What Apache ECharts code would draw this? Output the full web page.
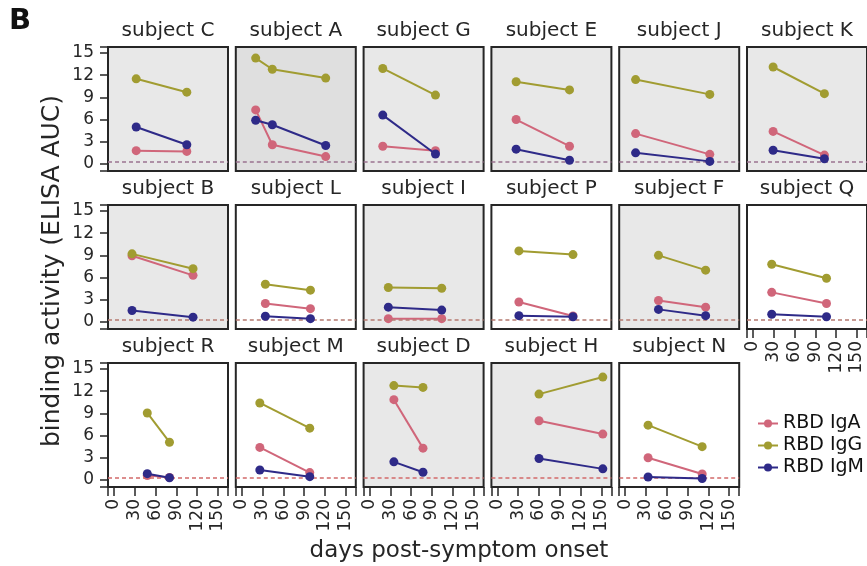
<!DOCTYPE html>
<html>
<head>
<meta charset="utf-8">
<script src="https://cdn.jsdelivr.net/npm/echarts@6/dist/echarts.min.js"></script>
<style>
  html, body { margin: 0; padding: 0; background: #fff; }
  #chart { width: 867px; height: 566px; }
</style>
</head>
<body>
<div id="chart"></div>
<script>
// one entry per panel, in reading order
const subjects = ['C', 'A', 'G', 'E', 'J', 'K', 'B', 'L', 'I', 'P', 'F', 'Q', 'R', 'M', 'D', 'H', 'N']
const sampleDays = [
  [32, 105], [20, 44, 121], [19, 95], [27, 104], [15, 122], [29, 103],
  [26, 114], [34, 99], [27, 104], [31, 109], [48, 116], [27, 106],
  [48, 80], [26, 98], [35, 77], [60, 152], [33, 111],
]
const rbdIgA = [
  [1.8, 1.7], [7.3, 2.6, 1.0], [2.4, 1.8], [6.0, 2.4], [4.1, 1.3], [4.4, 1.2],
  [8.95, 6.3], [2.5, 1.8], [0.45, 0.45], [2.7, 0.8], [2.9, 2.0], [4.0, 2.5],
  [0.6, 0.35], [4.4, 1.0], [10.85, 4.3], [8.0, 6.2], [3.0, 0.8],
]
const rbdIgG = [
  [11.5, 9.7], [14.3, 12.8, 11.6], [12.9, 9.3], [11.1, 10.0], [11.4, 9.4], [13.1, 9.5],
  [9.2, 7.2], [5.1, 4.3], [4.65, 4.55], [9.6, 9.1], [9.0, 7.0], [7.8, 5.9],
  [9.05, 5.1], [10.4, 7.0], [12.75, 12.5], [11.6, 13.9], [7.4, 4.5],
]
const rbdIgM = [
  [5.0, 2.6], [5.9, 5.3, 2.5], [6.6, 1.35], [2.0, 0.5], [1.5, 0.35], [1.85, 0.7],
  [1.55, 0.65], [0.77, 0.45], [2.0, 1.6], [0.85, 0.7], [1.7, 0.85], [1.05, 0.7],
  [0.85, 0.3], [1.35, 0.45], [2.45, 1.05], [2.9, 1.5], [0.4, 0.2],
]
// 0 = white panel, 1 = grey panel, 2 = darker grey
const panelShade = [1, 2, 1, 1, 1, 1, 1, 0, 1, 0, 1, 0, 0, 0, 1, 1, 0]
const detectionCutoff = 0.35

const yTicks = [0, 3, 6, 9, 12, 15]
const yAllTicks = [0, 1.5, 3, 4.5, 6, 7.5, 9, 10.5, 12, 13.5, 15]
const xTicks = [0, 30, 60, 90, 120, 150]
const xAllTicks = [0, 15, 30, 45, 60, 75, 90, 105, 120, 135, 150]

const FONT = 'DejaVu Sans'
const INK = '#262626'
const colors = { 'RBD IgA': '#d0667a', 'RBD IgG': '#a19c31', 'RBD IgM': '#2e2a88' }
const shadeColors = ['#ffffff', '#e8e8e8', '#dfdfdf']
const cutoffColors = ['#9a7390', '#b57a70', '#d26a6a']

const left0 = 108
const pitchX = 127.8
const panelW = 120
const panelH = 124
const rowTops = [47, 205, 363]
const X_MIN = -8.65, X_MAX = 164.4
const Y_MIN = -0.95, Y_MAX = 15.8

const grids = []
const xAxes = []
const yAxes = []
const titles = []
const series = []

// ticks follow the label list, so minor positions get an empty label
const onlyMajor = (majors) => (v) => (majors.indexOf(v) >= 0 ? String(v) : '')

subjects.forEach((s, i) => {
  const row = Math.floor(i / 6)
  const col = i % 6
  const left = left0 + col * pitchX
  const top = rowTops[row]
  const showX = row === 2 || i === 11   // Q has no panel under it
  const showY = col === 0

  grids.push({
    left, top, width: panelW, height: panelH,
    show: true,
    backgroundColor: shadeColors[panelShade[i]],
    borderColor: INK,
    borderWidth: 2,
  })
  titles.push({
    text: 'subject ' + s,
    left: left + panelW / 2,
    top: top - 26,
    textAlign: 'center',
    padding: 0,
    textStyle: { fontFamily: FONT, fontSize: 20, fontWeight: 'normal', color: INK },
  })

  xAxes.push({
    gridIndex: i, type: 'value', min: X_MIN, max: X_MAX,
    show: showX,
    axisLine: { show: false, onZero: false }, splitLine: { show: false },
    axisTick: { length: 6, lineStyle: { color: INK, width: 1.5 } },
    axisLabel: {
      customValues: xAllTicks, formatter: onlyMajor(xTicks),
      rotate: 90, margin: 12, fontFamily: FONT, fontSize: 17, color: INK,
    },
  })
  yAxes.push({
    gridIndex: i, type: 'value', min: Y_MIN, max: Y_MAX,
    show: showY,
    axisLine: { show: false, onZero: false }, splitLine: { show: false },
    axisTick: { length: 5, lineStyle: { color: INK, width: 1.5 } },
    axisLabel: {
      customValues: yAllTicks, formatter: onlyMajor(yTicks),
      margin: 14, fontFamily: FONT, fontSize: 17, color: INK,
    },
  })

  const pts = arr => sampleDays[i].map((d, k) => [d, arr[i][k]])
  ;[['RBD IgA', rbdIgA], ['RBD IgG', rbdIgG], ['RBD IgM', rbdIgM]].forEach(([name, arr], k) => {
    const ser = {
      name, type: 'line',
      xAxisIndex: i, yAxisIndex: i,
      data: pts(arr),
      symbol: 'circle', symbolSize: 9,
      itemStyle: { color: colors[name] },
      lineStyle: { color: colors[name], width: 2 },
      z: 3 + k,
    }
    if (k === 0) {
      ser.markLine = {
        silent: true, symbol: 'none', label: { show: false },
        lineStyle: { color: cutoffColors[row], type: [4, 3], width: 1.5 },
        data: [{ yAxis: detectionCutoff }],
      }
    }
    series.push(ser)
  })
})

// a second axis per edge carries the longer major ticks
subjects.forEach((s, i) => {
  const row = Math.floor(i / 6)
  const col = i % 6
  xAxes.push({
    gridIndex: i, type: 'value', min: X_MIN, max: X_MAX,
    show: row === 2 || i === 11, position: 'bottom',
    axisLine: { show: false, onZero: false }, splitLine: { show: false },
    axisTick: { length: 9, lineStyle: { color: INK, width: 1.5 } },
    axisLabel: { customValues: xTicks, formatter: () => '' },
  })
  yAxes.push({
    gridIndex: i, type: 'value', min: Y_MIN, max: Y_MAX,
    show: col === 0, position: 'left',
    axisLine: { show: false, onZero: false }, splitLine: { show: false },
    axisTick: { length: 8, lineStyle: { color: INK, width: 1.5 } },
    axisLabel: { customValues: yTicks, formatter: () => '' },
  })
})

const chart = echarts.init(document.getElementById('chart'))
chart.setOption({
  animation: false,
  title: titles,
  grid: grids,
  xAxis: xAxes,
  yAxis: yAxes,
  series,
  legend: {
    data: ['RBD IgA', 'RBD IgG', 'RBD IgM'],
    orient: 'vertical',
    left: 752,
    top: 409,
    itemWidth: 20,
    itemHeight: 10,
    itemGap: 3,
    textStyle: { fontFamily: FONT, fontSize: 19, color: '#111' },
  },
  graphic: [
    {
      type: 'text', left: 9, top: 7,
      style: { text: 'B', font: 'bold 29px "DejaVu Sans"', fill: '#111' },
    },
    {
      type: 'text', x: 52, y: 271, rotation: Math.PI / 2,
      style: {
        text: 'binding activity (ELISA AUC)', font: '25px "DejaVu Sans"', fill: INK,
        align: 'center', verticalAlign: 'middle',
      },
    },
    {
      type: 'text', x: 459, y: 551,
      style: {
        text: 'days post-symptom onset', font: '23px "DejaVu Sans"', fill: INK,
        align: 'center', verticalAlign: 'middle',
      },
    },
  ],
})
</script>
</body>
</html>
